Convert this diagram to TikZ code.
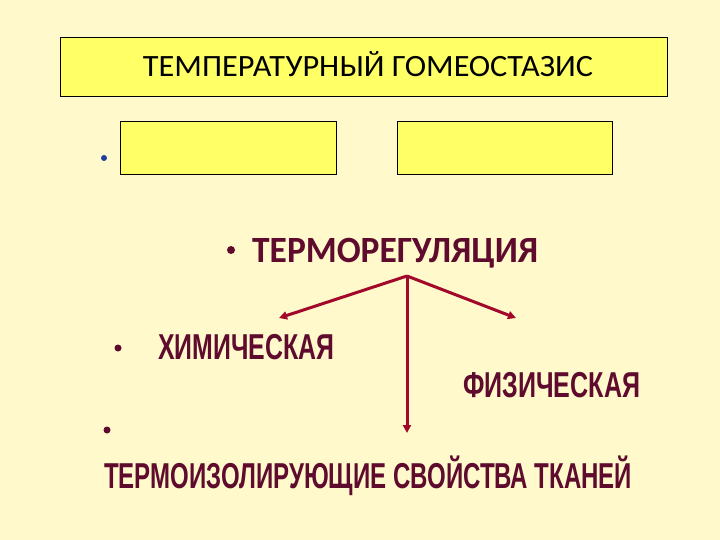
\documentclass[tikz,border=0pt]{standalone}
\usepackage{fontspec}
\setmainfont{Liberation Sans}
\newfontfamily\titlefont{Carlito}
\newfontfamily\heavyfont{Liberation Sans}
\usetikzlibrary{arrows.meta}
\definecolor{bgc}{HTML}{FFF9CC}
\definecolor{boxc}{HTML}{FFFF66}
\definecolor{maroon}{HTML}{5E0B2E}
\definecolor{arrc}{HTML}{A2082A}
\definecolor{bluec}{HTML}{1F3FA0}
\newcommand\fitw[2]{\resizebox{#1}{\height}{#2}}
\tikzset{
  ybox/.style={draw=black, line width=0.8pt, fill=boxc},
  heavy/.style={inner sep=0pt, anchor=base west, text=maroon, font=\heavyfont\bfseries\fontsize{36}{40}\selectfont},
  arr/.style={draw=arrc, line width=3pt, -{Triangle[length=8pt,width=8pt]}},
  dot/.style={circle, inner sep=0pt, minimum size=7pt, fill=maroon}
}
\begin{document}
\begin{tikzpicture}[x=1pt,y=-1pt]
\fill[bgc] (0,0) rectangle (720,540);
\useasboundingbox (0,0) rectangle (720,540);
% title
\draw[ybox] (60,37) rectangle (667,96);
\node[inner sep=0pt, anchor=base, font=\titlefont\fontsize{31}{33}\selectfont] (title) at (368,77) {\fitw{450pt}{ТЕМПЕРАТУРНЫЙ ГОМЕОСТАЗИС}};
% empty boxes
\node[dot, fill=bluec, minimum size=6pt] (b0) at (104,158) {};
\draw[ybox] (120,121) rectangle (336,174);
\draw[ybox] (397,121) rectangle (612,174);
% thermoregulation
\node[dot, minimum size=8pt] (b1) at (231,250) {};
\node[inner sep=0pt, anchor=base west, text=maroon, font=\titlefont\bfseries\fontsize{37}{40}\selectfont] (thermo) at (252,262) {\fitw{286pt}{ТЕРМОРЕГУЛЯЦИЯ}};
% arrows
\coordinate (apex) at (407,276);
\coordinate (lt) at (279,318);
\coordinate (rt) at (516,318);
\coordinate (dn) at (407,433);
\draw[arr] (apex) -- (lt);
\draw[arr] (apex) -- (rt);
\draw[arr] (apex) -- (dn);
% chemical
\node[dot] (b2) at (118,348) {};
\node[heavy] (chem) at (158,359) {\fitw{176pt}{ХИМИЧЕСКАЯ}};
\node[heavy] (phys) at (463,397) {\fitw{177pt}{ФИЗИЧЕСКАЯ}};
% insulation
\node[dot] (b3) at (107,430) {};
\node[heavy] (insul) at (104,488) {\fitw{528pt}{ТЕРМОИЗОЛИРУЮЩИЕ СВОЙСТВА ТКАНЕЙ}};
\end{tikzpicture}
\end{document}
